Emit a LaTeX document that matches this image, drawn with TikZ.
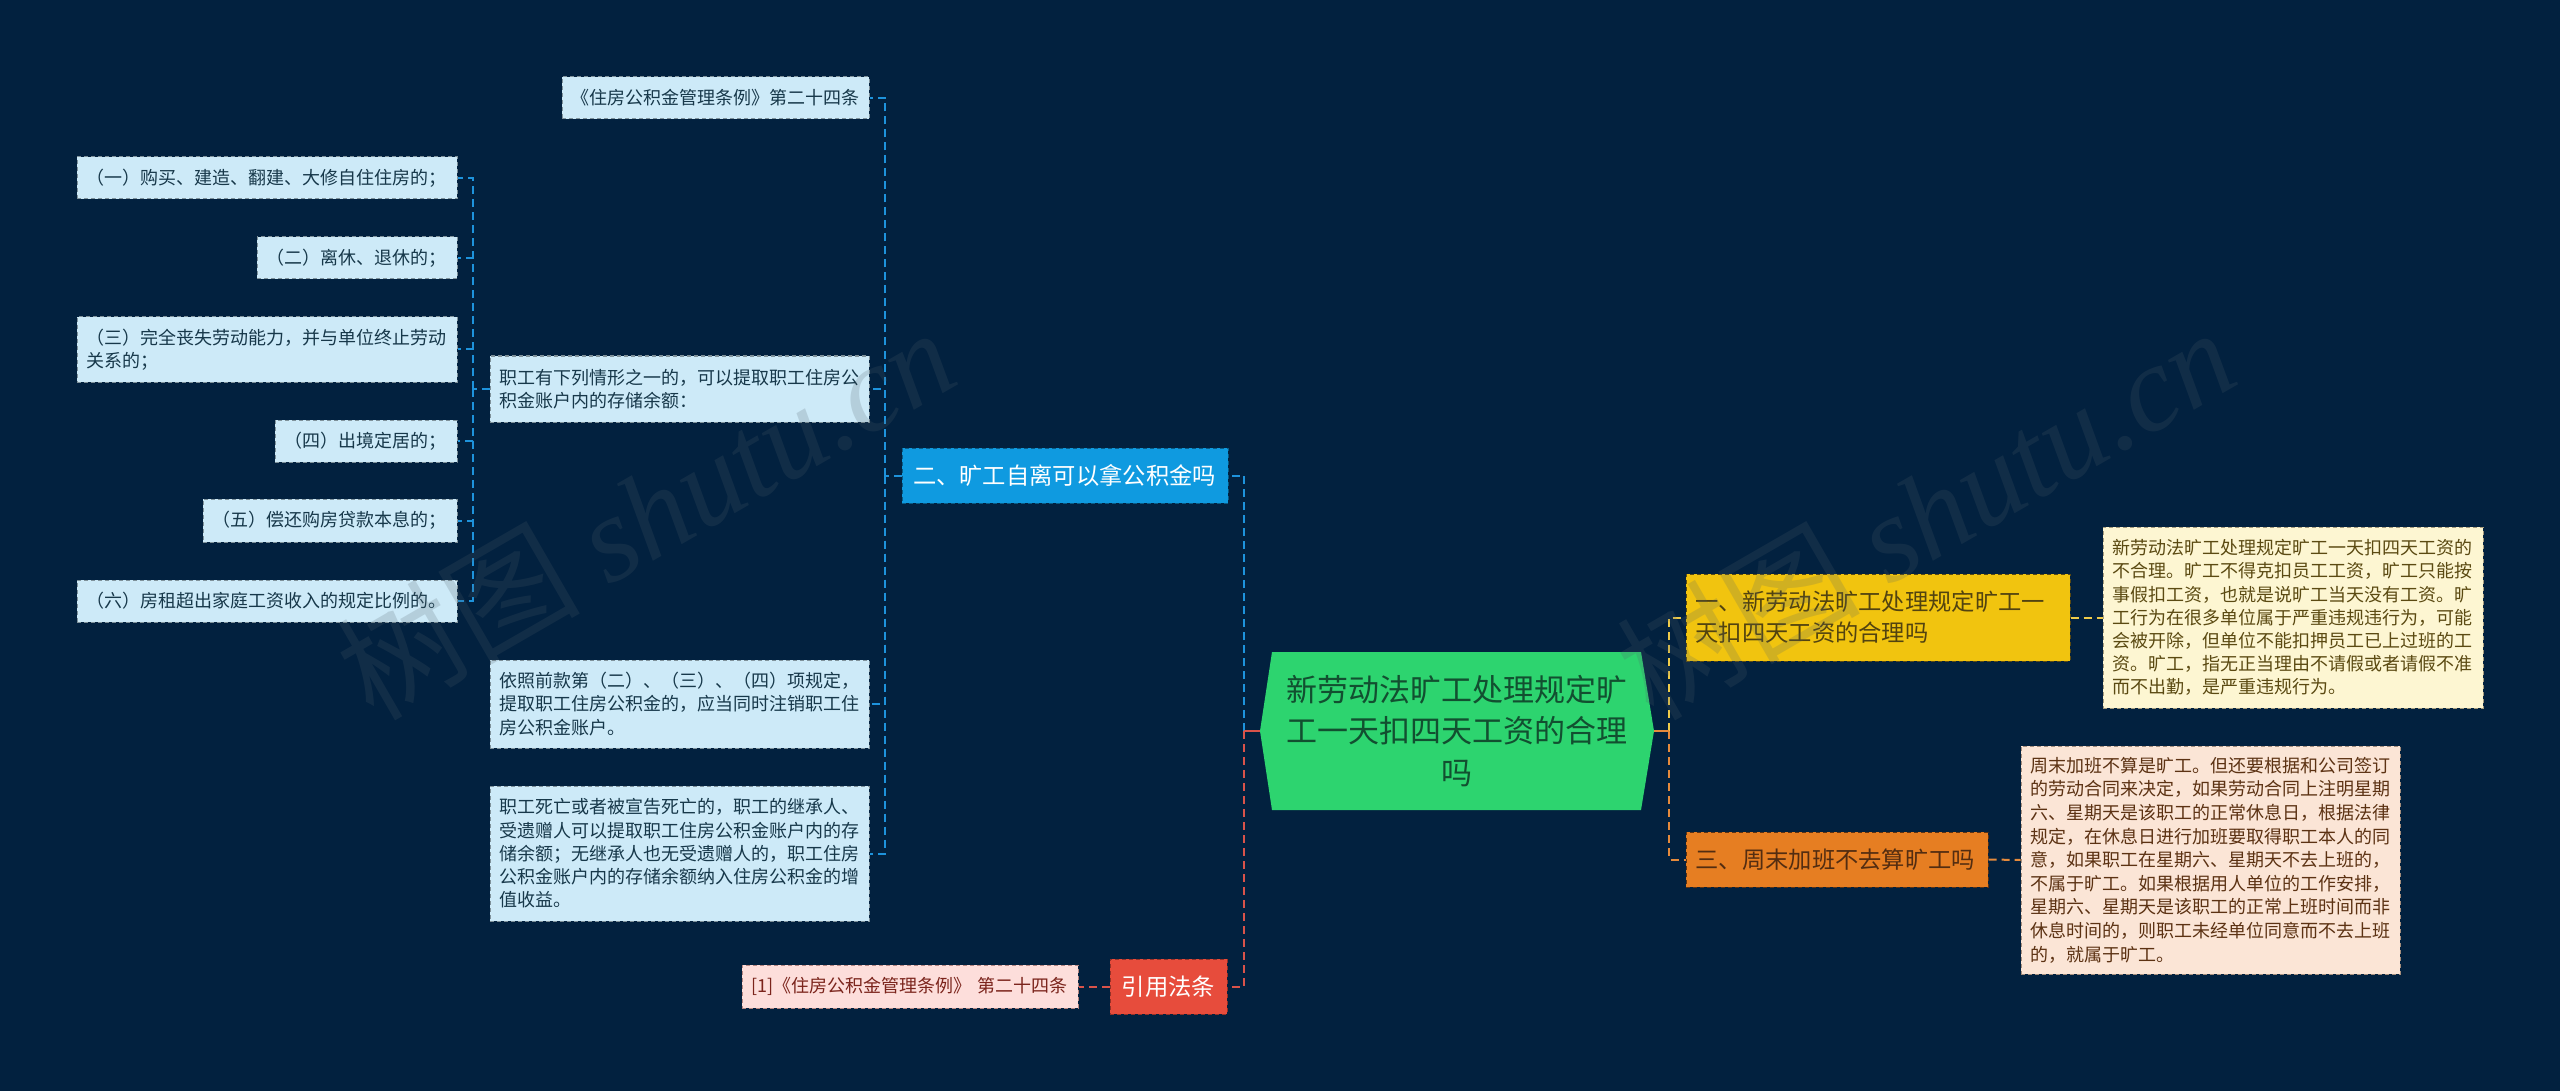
\documentclass[tikz,border=0pt]{standalone}
\usepackage{fontspec}
\setmainfont{Noto Sans CJK SC}
\newfontfamily\wmcjk[AutoFakeSlant=0.2]{Noto Sans CJK SC}
\newfontfamily\wmlat{Liberation Serif}
\usetikzlibrary{calc}
\definecolor{bgnavy}{HTML}{02213F}
\definecolor{cbluel}{HTML}{1E93DC}
\definecolor{credl}{HTML}{D9534A}
\definecolor{cyell}{HTML}{EFCB4A}
\definecolor{corgl}{HTML}{E58A3C}
\definecolor{rootgreen}{HTML}{2DD46F}
\definecolor{rootink}{HTML}{124F30}
\definecolor{secyel}{HTML}{F1C40F}
\definecolor{secorg}{HTML}{E67E22}
\definecolor{secblu}{HTML}{0F9AE0}
\definecolor{secred}{HTML}{E74C3C}
\definecolor{leaffill}{HTML}{CDEAF8}
\definecolor{leafink}{HTML}{17384A}
\definecolor{ynote}{HTML}{FDF6D2}
\definecolor{ynoteink}{HTML}{5B4A12}
\definecolor{pnote}{HTML}{FBE5D6}
\definecolor{pnoteink}{HTML}{5C3213}
\definecolor{rnote}{HTML}{FDDEDB}
\definecolor{rnoteink}{HTML}{7B241C}
\definecolor{wmgray}{HTML}{50606A}
\tikzset{
  boxbase/.style={rectangle,inner sep=0pt,dash pattern=on 4pt off 3pt,line width=1pt,align=left},
  leaf/.style={boxbase,fill=leaffill,draw=leafink!55,text=leafink,font=\fontsize{18}{23.2}\selectfont},
  ynotebox/.style={boxbase,fill=ynote,draw=ynoteink!55,text=ynoteink,font=\fontsize{18}{23.1}\selectfont},
  pnotebox/.style={boxbase,fill=pnote,draw=pnoteink!55,text=pnoteink,font=\fontsize{18}{23.6}\selectfont},
  rnotebox/.style={boxbase,fill=rnote,draw=rnoteink!55,text=rnoteink,font=\fontsize{18}{23.2}\selectfont},
  secy/.style={boxbase,fill=secyel,draw=ynoteink,text=ynoteink!90!black,font=\fontsize{23.3}{31}\selectfont},
  seco/.style={boxbase,fill=secorg,draw=pnoteink,text=pnoteink!90!black,font=\fontsize{23.3}{31}\selectfont},
  secb/.style={boxbase,fill=secblu,draw=secblu!60!black,text=white,font=\fontsize{23.3}{31}\selectfont},
  secr/.style={boxbase,fill=secred,draw=secred!65!black,text=white,align=center,font=\fontsize{23.3}{31}\selectfont},
  rootnode/.style={rectangle,inner sep=0pt,text=rootink,align=center,font=\fontsize{31}{41.6}\selectfont},
  linkbase/.style={line width=2pt,dash pattern=on 8pt off 5pt},
  lblue/.style={linkbase,draw=cbluel},
  lred/.style={linkbase,draw=credl},
  lyel/.style={linkbase,draw=cyell},
  lorg/.style={linkbase,draw=corgl},
  wmark/.style={rotate=30,text=wmgray,opacity=.2,inner sep=0pt},
}
\newcommand{\bx}[7]{\node[#6,minimum width={#4-#2},minimum height={#5-#3},text width={#4-#2-19}] (#1) at ({(#2+#4)/2},{(#3+#5)/2}) {#7};}
\newcommand{\wmtext}{\fontsize{122}{126}\selectfont{\wmcjk 树图} {\wmlat\itshape shutu.cn}}
\begin{document}
\begin{tikzpicture}[x=1pt,y=-1pt]
\useasboundingbox (0,0) rectangle (2560,1091);
\fill[bgnavy] (0,0) rectangle (2560,1091);
% central node
\fill[rootgreen] (1260,731) -- (1272,652) -- (1641,652) -- (1654,731) -- (1641,810) -- (1272,810) -- cycle;
\bx{root}{1260}{652}{1654}{810}{rootnode}{新劳动法旷工处理规定旷\\工一天扣四天工资的合理\\吗}
% right side
\bx{sy}{1686}{574}{2070}{661}{secy}{一、新劳动法旷工处理规定旷工一\\天扣四天工资的合理吗}
\bx{so}{1686}{832}{1988}{887}{seco}{三、周末加班不去算旷工吗}
\bx{ny}{2103}{527}{2483}{708}{ynotebox}{新劳动法旷工处理规定旷工一天扣四天工资的\\不合理。旷工不得克扣员工工资，旷工只能按\\事假扣工资，也就是说旷工当天没有工资。旷\\工行为在很多单位属于严重违规违行为，可能\\会被开除，但单位不能扣押员工已上过班的工\\资。旷工，指无正当理由不请假或者请假不准\\而不出勤，是严重违规行为。}
\bx{np}{2021}{746}{2400}{974}{pnotebox}{周末加班不算是旷工。但还要根据和公司签订\\的劳动合同来决定，如果劳动合同上注明星期\\六、星期天是该职工的正常休息日，根据法律\\规定，在休息日进行加班要取得职工本人的同\\意，如果职工在星期六、星期天不去上班的，\\不属于旷工。如果根据用人单位的工作安排，\\星期六、星期天是该职工的正常上班时间而非\\休息时间的，则职工未经单位同意而不去上班\\的，就属于旷工。}
% left side
\bx{sb}{902}{448}{1228}{503}{secb}{\hspace*{1.5pt}二、旷工自离可以拿公积金吗}
\bx{sr}{1110}{959}{1227}{1014}{secr}{引用法条}
\bx{nr}{742}{965}{1078}{1008}{rnotebox}{[1]《住房公积金管理条例》 第二十四条}
\bx{top}{562}{77}{869}{119}{leaf}{《住房公积金管理条例》第二十四条}
\bx{zhi}{490}{356}{869}{422}{leaf}{职工有下列情形之一的，可以提取职工住房公\\积金账户内的存储余额：}
\bx{yi}{490}{660}{869}{748}{leaf}{依照前款第（二）、（三）、（四）项规定，\\提取职工住房公积金的，应当同时注销职工住\\房公积金账户。}
\bx{si}{490}{786}{869}{921}{leaf}{职工死亡或者被宣告死亡的，职工的继承人、\\受遗赠人可以提取职工住房公积金账户内的存\\储余额；无继承人也无受遗赠人的，职工住房\\公积金账户内的存储余额纳入住房公积金的增\\值收益。}
\bx{ia}{77}{157}{457}{199}{leaf}{（一）购买、建造、翻建、大修自住住房的；}
\bx{ib}{257}{237}{457}{279}{leaf}{（二）离休、退休的；}
\bx{ic}{77}{317}{457}{382}{leaf}{（三）完全丧失劳动能力，并与单位终止劳动\\关系的；}
\bx{id}{275}{420}{457}{462}{leaf}{（四）出境定居的；}
\bx{ie}{203}{499}{457}{542}{leaf}{（五）偿还购房贷款本息的；}
\bx{if}{77}{580}{457}{622}{leaf}{（六）房租超出家庭工资收入的规定比例的。}
% junctions
\coordinate (jl) at (1244,731);
\coordinate (jr) at (1669,731);
\coordinate (jb) at (885,475.5);
\coordinate (ja) at (473,389);
% connectors
\draw[lblue] (jl) |- (sb.east);
\draw[lred] (jl) |- (sr.east);
\draw[credl,line width=2.5pt] (root.west) -- (jl);
\draw[lyel] (jr) |- (sy.west);
\draw[lorg] (jr) |- (so.west);
\draw[corgl,line width=2.5pt] (root.east) -- (jr);
\draw[lyel] (sy.east) -- (ny.west);
\draw[lorg] (so.east) -- (np.west);
\draw[lred] (sr.west) -- (nr.east);
\draw[lblue] (sb.west) -- (jb);
\draw[lblue] (jb) |- (top.east);
\draw[lblue] (jb) |- (zhi.east);
\draw[lblue] (jb) |- (yi.east);
\draw[lblue] (jb) |- (si.east);
\draw[lblue] (zhi.west) -- (ja);
\draw[lblue] (ja) |- (ia.east);
\draw[lblue] (ja) |- (ib.east);
\draw[lblue] (ja) |- (ic.east);
\draw[lblue] (ja) |- (id.east);
\draw[lblue] (ja) |- (ie.east);
\draw[lblue] (ja) |- (if.east);
% watermarks
\node[wmark] (wma) at (645,512) {\wmtext};
\node[wmark] (wmb) at (1925,512) {\wmtext};
\end{tikzpicture}
\end{document}
